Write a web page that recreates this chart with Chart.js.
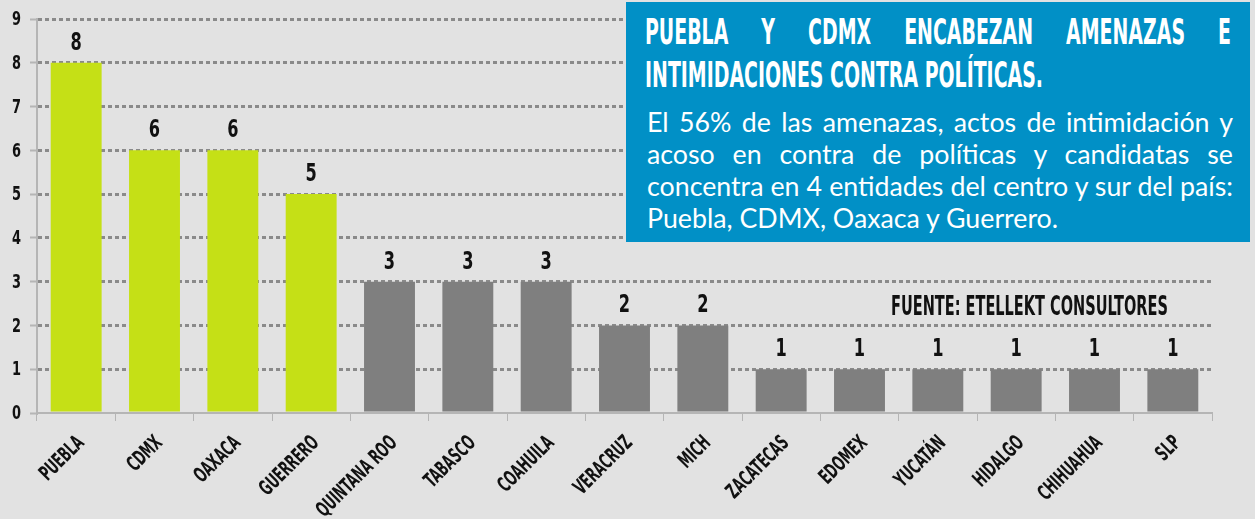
<!DOCTYPE html>
<html>
<head>
<meta charset="utf-8">
<script src="https://cdn.jsdelivr.net/npm/chart.js@4.4.1/dist/chart.umd.min.js"></script>
<style>
    html, body { margin: 0; padding: 0; background: #e2e2e2; }
    #wrap { position: relative; width: 1255px; height: 519px; overflow: hidden; }
    #caja { position: absolute; left: 626px; top: 2px; width: 624px; height: 240px; background: #0190c6; color: #fff; }
    .tit { position: absolute; left: 19px; white-space: nowrap; font-family: 'DejaVu Sans Condensed', sans-serif; font-weight: bold; font-size: 36px; line-height: 36px; transform-origin: 0 0; }
    #cuerpo { position: absolute; left: 21px; top: 104px; width: 586px; font-family: Lato, sans-serif; font-size: 23px; line-height: 32px; }
    #cuerpo div { white-space: nowrap; text-align: justify; text-align-last: justify; }
    #cuerpo div.ult { text-align-last: left; }
    #fuente { position: absolute; left: 891px; top: 292px; white-space: nowrap; font-family: 'DejaVu Sans Condensed', sans-serif; font-weight: bold; font-size: 27px; line-height: 27px; transform-origin: 0 0; color: #111; }
</style>
</head>
<body>
<div id="wrap">
    <canvas id="AmenazasChart" width="1255" height="519"></canvas>
    <div id="caja">
        <div class="tit" id="tit1" style="top:12px">PUEBLA Y CDMX ENCABEZAN AMENAZAS E</div>
        <div class="tit" id="tit2" style="top:55px">INTIMIDACIONES CONTRA POLÍTICAS.</div>
        <div id="cuerpo">
            <div>El 56% de las amenazas, actos de intimidación y</div>
            <div>acoso en contra de políticas y candidatas se</div>
            <div id="lin3">concentra en 4 entidades del centro y sur del país:</div>
            <div class="ult">Puebla, CDMX, Oaxaca y Guerrero.</div>
        </div>
    </div>
    <div id="fuente">FUENTE: ETELLEKT CONSULTORES</div>
</div>
<script>
    // datos
    var estados = ['PUEBLA', 'CDMX', 'OAXACA', 'GUERRERO', 'QUINTANA ROO', 'TABASCO', 'COAHUILA',
        'VERACRUZ', 'MICH', 'ZACATECAS', 'EDOMEX', 'YUCATÁN', 'HIDALGO', 'CHIHUAHUA', 'SLP'];
    var casos = [8, 6, 6, 5, 3, 3, 3, 2, 2, 1, 1, 1, 1, 1, 1];
    var destacados = ['PUEBLA', 'CDMX', 'OAXACA', 'GUERRERO'];
    var ticksY = [0, 1, 2, 3, 4, 5, 6, 7, 8, 9];

    var fuenteAngosta = "'DejaVu Sans Condensed', sans-serif";

    // titulo: comprimir a lo ancho como en la imagen
    var t1 = document.getElementById('tit1');
    var t2 = document.getElementById('tit2');
    var escala = 398 / t2.offsetWidth;
    t2.style.transform = 'scaleX(' + escala + ')';
    t1.style.width = (586 / escala) + 'px';
    t1.style.whiteSpace = 'normal';
    t1.style.textAlign = 'justify';
    t1.style.textAlignLast = 'justify';
    t1.style.transform = 'scaleX(' + escala + ')';
    var fu = document.getElementById('fuente');
    fu.style.transform = 'scaleX(' + (277 / fu.offsetWidth) + ')';

    // cuerpo: tamaño para que la tercera linea llene el ancho
    var l3 = document.getElementById('lin3');
    l3.style.display = 'inline-block';
    var tam = 23 * 584 / l3.offsetWidth;
    l3.style.display = '';
    document.getElementById('cuerpo').style.fontSize = tam + 'px';

    // texto angosto en canvas
    function textoAngosto(ctx, txt, x, y, size, sx, ang, align, base) {
        ctx.save();
        ctx.translate(x, y);
        ctx.rotate(ang);
        ctx.scale(sx, 1);
        ctx.font = 'bold ' + size + 'px ' + fuenteAngosta;
        ctx.fillStyle = '#111';
        ctx.textAlign = align;
        ctx.textBaseline = base;
        ctx.fillText(txt, 0, 0);
        ctx.restore();
    }

    //etiquetas sobre las barras y de los ejes//
    var etiquetas = {
        id: 'etiquetas',
        afterDraw: function (chart) {
            var ctx = chart.ctx;
            var meta = chart.getDatasetMeta(0);
            var sx = chart.scales.x, sy = chart.scales.y;
            meta.data.forEach(function (bar, i) {
                textoAngosto(ctx, casos[i], bar.x, bar.y - 7, 25, 0.72, 0, 'center', 'bottom');
            });
            estados.forEach(function (e, i) {
                textoAngosto(ctx, e, sx.getPixelForValue(i) + 5, chart.chartArea.bottom + 27, 21, 0.64, -Math.PI / 4, 'right', 'middle');
            });
            ticksY.forEach(function (v) {
                textoAngosto(ctx, v, 21, sy.getPixelForValue(v) + 1, 20, 0.72, 0, 'right', 'middle');
            });
        }
    };

    var ctx = document.getElementById('AmenazasChart').getContext('2d');
    var myBarChart = new Chart(ctx, {
        type: 'bar',
        data: {
            labels: estados,
            datasets: [{
                data: casos,
                backgroundColor: estados.map(function (e) {
                    return destacados.indexOf(e) >= 0 ? '#c5e016' : '#7f7f7f';
                }),
                barPercentage: 0.65,
                categoryPercentage: 1
            }]
        },
        options: {
            responsive: false,
            animation: false,
            layout: { padding: { top: 19, right: 43, left: 0, bottom: 0 } },
            plugins: { legend: { display: false }, tooltip: { enabled: false } },
            scales: {
                x: {
                    afterFit: function (scale) { scale.height = 106; },
                    grid: { offset: true, drawOnChartArea: false, tickLength: 8, tickColor: '#b5b5b5' },
                    border: { color: '#b5b5b5', width: 2 },
                    ticks: { display: false, autoSkip: false }
                },
                y: {
                    min: 0, max: 9,
                    afterFit: function (scale) { scale.width = 37; },
                    afterBuildTicks: function (scale) {
                        scale.ticks = ticksY.map(function (v) { return { value: v }; });
                    },
                    grid: {
                        color: function (c) { return c.tick && c.tick.value === 0 ? 'rgba(0,0,0,0)' : '#8a8a8a'; },
                        lineWidth: 3,
                        tickLength: 7,
                        tickColor: '#b5b5b5',
                        tickWidth: 2
                    },
                    border: { color: '#b5b5b5', width: 2, dash: [4, 3] },
                    ticks: { display: false }
                }
            }
        },
        plugins: [etiquetas]
    });
</script>
</body>
</html>
